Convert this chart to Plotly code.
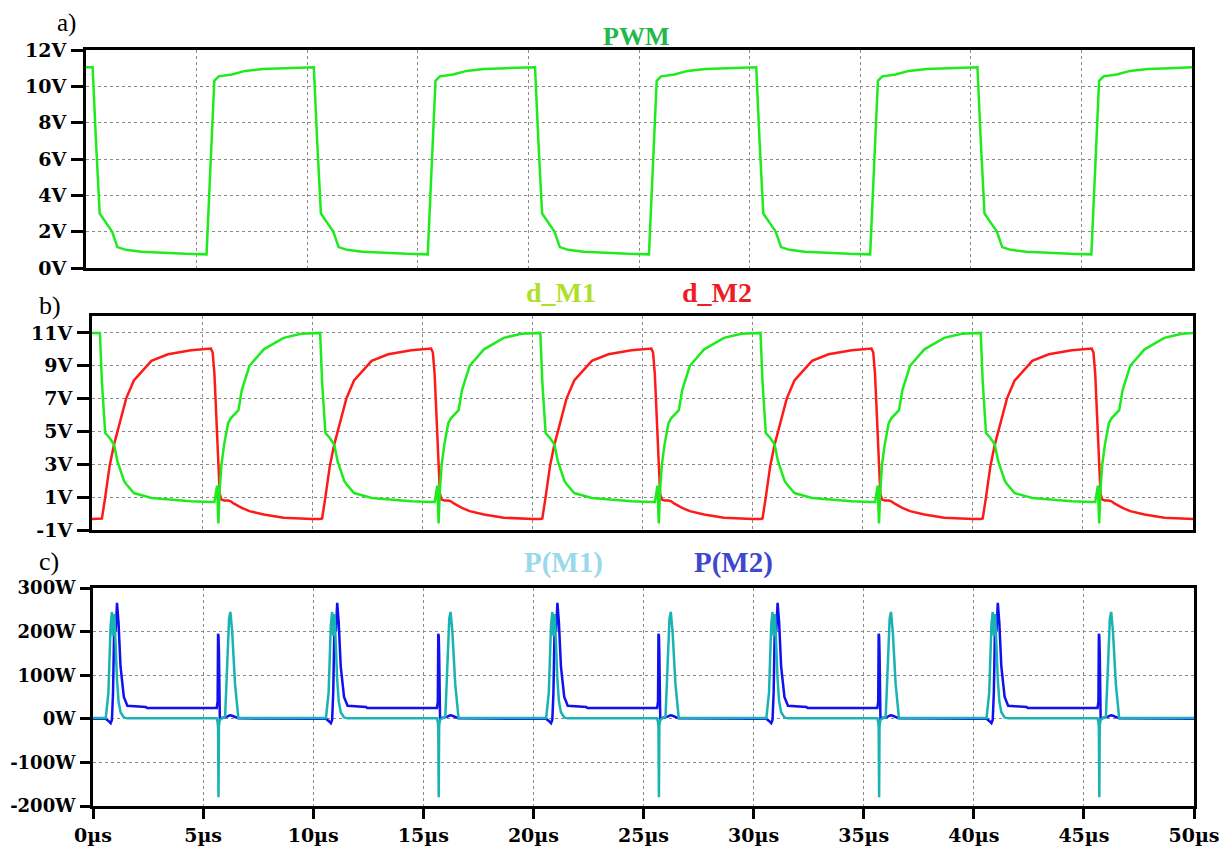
import plotly.graph_objects as go

# ---------------- data ----------------
# Panel a) PWM gate voltage, time in microseconds
t_pwm = [
    0.00,
    0.30, 0.45, 0.62, 0.90, 1.18, 1.42, 1.80, 2.50, 3.50, 4.50, 5.45, 5.62, 5.80, 6.00, 6.60, 7.20, 8.00, 9.00,
    10.30, 10.45, 10.62, 10.90, 11.18, 11.42, 11.80, 12.50, 13.50, 14.50, 15.45, 15.62, 15.80, 16.00, 16.60, 17.20, 18.00, 19.00,
    20.30, 20.45, 20.62, 20.90, 21.18, 21.42, 21.80, 22.50, 23.50, 24.50, 25.45, 25.62, 25.80, 26.00, 26.60, 27.20, 28.00, 29.00,
    30.30, 30.45, 30.62, 30.90, 31.18, 31.42, 31.80, 32.50, 33.50, 34.50, 35.45, 35.62, 35.80, 36.00, 36.60, 37.20, 38.00, 39.00,
    40.30, 40.45, 40.62, 40.90, 41.18, 41.42, 41.80, 42.50, 43.50, 44.50, 45.45, 45.62, 45.80, 46.00, 46.60, 47.20, 48.00, 49.00,
    50.00,
]
v_pwm = [
    11.05,
    11.05, 7.0, 3.0, 2.5, 2.0, 1.15, 1.0, 0.9, 0.82, 0.78, 0.75, 5.5, 10.3, 10.55, 10.65, 10.85, 10.95, 11.0,
    11.05, 7.0, 3.0, 2.5, 2.0, 1.15, 1.0, 0.9, 0.82, 0.78, 0.75, 5.5, 10.3, 10.55, 10.65, 10.85, 10.95, 11.0,
    11.05, 7.0, 3.0, 2.5, 2.0, 1.15, 1.0, 0.9, 0.82, 0.78, 0.75, 5.5, 10.3, 10.55, 10.65, 10.85, 10.95, 11.0,
    11.05, 7.0, 3.0, 2.5, 2.0, 1.15, 1.0, 0.9, 0.82, 0.78, 0.75, 5.5, 10.3, 10.55, 10.65, 10.85, 10.95, 11.0,
    11.05, 7.0, 3.0, 2.5, 2.0, 1.15, 1.0, 0.9, 0.82, 0.78, 0.75, 5.5, 10.3, 10.55, 10.65, 10.85, 10.95, 11.0,
    11.05,
]

# Panel b) drain voltages d_M1 / d_M2
t_drain = [
    0.00, 0.36, 0.45, 0.60, 0.80, 1.00, 1.15, 1.45, 1.55, 1.90, 2.70, 3.45, 4.50, 5.40, 5.48, 5.56, 5.68, 5.74, 5.80, 5.88, 6.00, 6.18, 6.30, 6.45, 6.65, 6.80, 7.15, 7.80, 8.70, 9.50,
    10.00, 10.36, 10.45, 10.60, 10.80, 11.00, 11.15, 11.45, 11.55, 11.90, 12.70, 13.45, 14.50, 15.40, 15.48, 15.56, 15.68, 15.74, 15.80, 15.88, 16.00, 16.18, 16.30, 16.45, 16.65, 16.80, 17.15, 17.80, 18.70, 19.50,
    20.00, 20.36, 20.45, 20.60, 20.80, 21.00, 21.15, 21.45, 21.55, 21.90, 22.70, 23.45, 24.50, 25.40, 25.48, 25.56, 25.68, 25.74, 25.80, 25.88, 26.00, 26.18, 26.30, 26.45, 26.65, 26.80, 27.15, 27.80, 28.70, 29.50,
    30.00, 30.36, 30.45, 30.60, 30.80, 31.00, 31.15, 31.45, 31.55, 31.90, 32.70, 33.45, 34.50, 35.40, 35.48, 35.56, 35.68, 35.74, 35.80, 35.88, 36.00, 36.18, 36.30, 36.45, 36.65, 36.80, 37.15, 37.80, 38.70, 39.50,
    40.00, 40.36, 40.45, 40.60, 40.80, 41.00, 41.15, 41.45, 41.55, 41.90, 42.70, 43.45, 44.50, 45.40, 45.48, 45.56, 45.68, 45.74, 45.80, 45.88, 46.00, 46.18, 46.30, 46.45, 46.65, 46.80, 47.15, 47.80, 48.70, 49.50,
    50.00,
]
v_dm1 = [
    11.0, 11.0, 8.0, 4.9, 4.6, 4.2, 3.2, 2.0, 1.8, 1.25, 0.95, 0.85, 0.75, 0.7, 0.7, 0.7, 1.7, -0.6, 1.5, 3.0, 4.2, 5.5, 5.8, 6.0, 6.3, 7.5, 9.0, 10.0, 10.7, 10.95,
    11.0, 11.0, 8.0, 4.9, 4.6, 4.2, 3.2, 2.0, 1.8, 1.25, 0.95, 0.85, 0.75, 0.7, 0.7, 0.7, 1.7, -0.6, 1.5, 3.0, 4.2, 5.5, 5.8, 6.0, 6.3, 7.5, 9.0, 10.0, 10.7, 10.95,
    11.0, 11.0, 8.0, 4.9, 4.6, 4.2, 3.2, 2.0, 1.8, 1.25, 0.95, 0.85, 0.75, 0.7, 0.7, 0.7, 1.7, -0.6, 1.5, 3.0, 4.2, 5.5, 5.8, 6.0, 6.3, 7.5, 9.0, 10.0, 10.7, 10.95,
    11.0, 11.0, 8.0, 4.9, 4.6, 4.2, 3.2, 2.0, 1.8, 1.25, 0.95, 0.85, 0.75, 0.7, 0.7, 0.7, 1.7, -0.6, 1.5, 3.0, 4.2, 5.5, 5.8, 6.0, 6.3, 7.5, 9.0, 10.0, 10.7, 10.95,
    11.0, 11.0, 8.0, 4.9, 4.6, 4.2, 3.2, 2.0, 1.8, 1.25, 0.95, 0.85, 0.75, 0.7, 0.7, 0.7, 1.7, -0.6, 1.5, 3.0, 4.2, 5.5, 5.8, 6.0, 6.3, 7.5, 9.0, 10.0, 10.7, 10.95,
    11.0,
]
v_dm2 = [
    -0.33, -0.33, -0.3, 1.0, 2.9, 4.2, 5.0, 6.5, 7.0, 8.1, 9.3, 9.7, 9.95, 10.05, 9.8, 8.5, 5.0, 3.0, 1.2, 0.85, 0.8, 0.8, 0.75, 0.6, 0.45, 0.35, 0.15, -0.05, -0.25, -0.32,
    -0.33, -0.33, -0.3, 1.0, 2.9, 4.2, 5.0, 6.5, 7.0, 8.1, 9.3, 9.7, 9.95, 10.05, 9.8, 8.5, 5.0, 3.0, 1.2, 0.85, 0.8, 0.8, 0.75, 0.6, 0.45, 0.35, 0.15, -0.05, -0.25, -0.32,
    -0.33, -0.33, -0.3, 1.0, 2.9, 4.2, 5.0, 6.5, 7.0, 8.1, 9.3, 9.7, 9.95, 10.05, 9.8, 8.5, 5.0, 3.0, 1.2, 0.85, 0.8, 0.8, 0.75, 0.6, 0.45, 0.35, 0.15, -0.05, -0.25, -0.32,
    -0.33, -0.33, -0.3, 1.0, 2.9, 4.2, 5.0, 6.5, 7.0, 8.1, 9.3, 9.7, 9.95, 10.05, 9.8, 8.5, 5.0, 3.0, 1.2, 0.85, 0.8, 0.8, 0.75, 0.6, 0.45, 0.35, 0.15, -0.05, -0.25, -0.32,
    -0.33, -0.33, -0.3, 1.0, 2.9, 4.2, 5.0, 6.5, 7.0, 8.1, 9.3, 9.7, 9.95, 10.05, 9.8, 8.5, 5.0, 3.0, 1.2, 0.85, 0.8, 0.8, 0.75, 0.6, 0.45, 0.35, 0.15, -0.05, -0.25, -0.32,
    -0.33,
]

# Panel c) dissipated power P(M1) / P(M2)
t_pow = [
    0.00, 0.58, 0.70, 0.80, 0.86, 0.91, 0.97, 1.03, 1.09, 1.16, 1.25, 1.40, 1.56, 2.40, 2.45, 5.62, 5.66, 5.68, 5.70, 5.72, 5.76, 5.85, 6.00, 6.10, 6.18, 6.24, 6.32, 6.45, 6.60, 9.90,
    10.00, 10.58, 10.70, 10.80, 10.86, 10.91, 10.97, 11.03, 11.09, 11.16, 11.25, 11.40, 11.56, 12.40, 12.45, 15.62, 15.66, 15.68, 15.70, 15.72, 15.76, 15.85, 16.00, 16.10, 16.18, 16.24, 16.32, 16.45, 16.60, 19.90,
    20.00, 20.58, 20.70, 20.80, 20.86, 20.91, 20.97, 21.03, 21.09, 21.16, 21.25, 21.40, 21.56, 22.40, 22.45, 25.62, 25.66, 25.68, 25.70, 25.72, 25.76, 25.85, 26.00, 26.10, 26.18, 26.24, 26.32, 26.45, 26.60, 29.90,
    30.00, 30.58, 30.70, 30.80, 30.86, 30.91, 30.97, 31.03, 31.09, 31.16, 31.25, 31.40, 31.56, 32.40, 32.45, 35.62, 35.66, 35.68, 35.70, 35.72, 35.76, 35.85, 36.00, 36.10, 36.18, 36.24, 36.32, 36.45, 36.60, 39.90,
    40.00, 40.58, 40.70, 40.80, 40.86, 40.91, 40.97, 41.03, 41.09, 41.16, 41.25, 41.40, 41.56, 42.40, 42.45, 45.62, 45.66, 45.68, 45.70, 45.72, 45.76, 45.85, 46.00, 46.10, 46.18, 46.24, 46.32, 46.45, 46.60, 49.90,
    50.00,
]
p_m1 = [
    2, 2, 60, 215, 245, 190, 240, 160, 90, 40, 15, 3, 1, 1, 1, 1, -8, -20, -180, -15, -3, 1, 5, 120, 230, 245, 200, 80, 2, 2,
    2, 2, 60, 215, 245, 190, 240, 160, 90, 40, 15, 3, 1, 1, 1, 1, -8, -20, -180, -15, -3, 1, 5, 120, 230, 245, 200, 80, 2, 2,
    2, 2, 60, 215, 245, 190, 240, 160, 90, 40, 15, 3, 1, 1, 1, 1, -8, -20, -180, -15, -3, 1, 5, 120, 230, 245, 200, 80, 2, 2,
    2, 2, 60, 215, 245, 190, 240, 160, 90, 40, 15, 3, 1, 1, 1, 1, -8, -20, -180, -15, -3, 1, 5, 120, 230, 245, 200, 80, 2, 2,
    2, 2, 60, 215, 245, 190, 240, 160, 90, 40, 15, 3, 1, 1, 1, 1, -8, -20, -180, -15, -3, 1, 5, 120, 230, 245, 200, 80, 2, 2,
    2,
]
p_m2 = [
    0, 0, -5, -10, -2, 60, 230, 200, 266, 220, 120, 50, 30, 27, 25, 25, 40, 195, 190, 150, 0, 2, 3, 5, 7, 8, 7, 4, 1, 0,
    0, 0, -5, -10, -2, 60, 230, 200, 266, 220, 120, 50, 30, 27, 25, 25, 40, 195, 190, 150, 0, 2, 3, 5, 7, 8, 7, 4, 1, 0,
    0, 0, -5, -10, -2, 60, 230, 200, 266, 220, 120, 50, 30, 27, 25, 25, 40, 195, 190, 150, 0, 2, 3, 5, 7, 8, 7, 4, 1, 0,
    0, 0, -5, -10, -2, 60, 230, 200, 266, 220, 120, 50, 30, 27, 25, 25, 40, 195, 190, 150, 0, 2, 3, 5, 7, 8, 7, 4, 1, 0,
    0, 0, -5, -10, -2, 60, 230, 200, 266, 220, 120, 50, 30, 27, 25, 25, 40, 195, 190, 150, 0, 2, 3, 5, 7, 8, 7, 4, 1, 0,
    0,
]

# Tick labels
x_tickvals = [0, 5, 10, 15, 20, 25, 30, 35, 40, 45, 50]
x_ticktext = ["0µs", "5µs", "10µs", "15µs", "20µs", "25µs", "30µs", "35µs", "40µs", "45µs", "50µs"]
ya_tickvals = [0, 2, 4, 6, 8, 10, 12]
ya_ticktext = ["0V", "2V", "4V", "6V", "8V", "10V", "12V"]
yb_tickvals = [-1, 1, 3, 5, 7, 9, 11]
yb_ticktext = ["-1V", "1V", "3V", "5V", "7V", "9V", "11V"]
yc_tickvals = [-200, -100, 0, 100, 200, 300]
yc_ticktext = ["-200W", "-100W", "0W", "100W", "200W", "300W"]

# ---------------- figure ----------------
# The page body has an 8 px margin, so the figure is 8 px smaller and
# all reference pixel positions are shifted by that offset.
OFF = 8
W, H = 1228 - OFF, 849 - OFF
def px(x):
    return (x - OFF) / W
def py(y):
    return 1 - (y - OFF) / H

fig = go.Figure()
fig.add_trace(go.Scatter(x=t_pwm, y=v_pwm, mode="lines", line=dict(color="#1eeb1e", width=2.5),
                         xaxis="x", yaxis="y", name="PWM"))
fig.add_trace(go.Scatter(x=t_drain, y=v_dm2, mode="lines", line=dict(color="#ff1a1a", width=2.5),
                         xaxis="x2", yaxis="y2", name="d_M2"))
fig.add_trace(go.Scatter(x=t_drain, y=v_dm1, mode="lines", line=dict(color="#1eeb1e", width=2.5),
                         xaxis="x2", yaxis="y2", name="d_M1"))
fig.add_trace(go.Scatter(x=t_pow, y=p_m2, mode="lines", line=dict(color="#1010f0", width=2.5),
                         xaxis="x3", yaxis="y3", name="P(M2)"))
fig.add_trace(go.Scatter(x=t_pow, y=p_m1, mode="lines", line=dict(color="#1ab3b3", width=2.5),
                         xaxis="x3", yaxis="y3", name="P(M1)"))

tick_font = dict(family="DejaVu Serif", size=19, color="black", weight="bold")
tick_font_c = dict(family="DejaVu Serif", size=18, color="black", weight="bold")
grid = dict(showgrid=True, gridcolor="#8a8a8a", gridwidth=1, griddash="dot", zeroline=False,
            showline=True, linecolor="black", linewidth=3, mirror=True, automargin=False)

def xax(domain, anchor, labels):
    d = dict(grid)
    d.update(domain=domain, anchor=anchor, range=[0, 50], tickvals=x_tickvals,
             ticktext=x_ticktext, showticklabels=labels, tickfont=tick_font)
    if labels:
        d.update(ticks="outside", ticklen=10, tickwidth=3, tickcolor="black")
    else:
        d.update(ticks="")
    return d

def yax(domain, anchor, rng, tv, tt, font, tlen=12):
    d = dict(grid)
    d.update(domain=domain, anchor=anchor, range=rng, tickvals=tv, ticktext=tt,
             ticks="outside", ticklen=tlen, tickwidth=3, tickcolor="black",
             tickfont=font, ticklabelstandoff=1)
    return d

fig.update_layout(
    width=W, height=H,
    margin=dict(l=0, r=0, t=0, b=0, autoexpand=False),
    paper_bgcolor="white", plot_bgcolor="white",
    showlegend=False,
    xaxis=xax([px(86), px(1192)], "y", False),
    yaxis=yax([py(268), py(50)], "x", [0, 12], ya_tickvals, ya_ticktext, tick_font),
    xaxis2=xax([px(92), px(1193)], "y2", False),
    yaxis2=yax([py(530), py(316)], "x2", [-1, 12.03], yb_tickvals, yb_ticktext, tick_font),
    xaxis3=xax([px(93), px(1194)], "y3", True),
    yaxis3=yax([py(806), py(588)], "x3", [-200, 300], yc_tickvals, yc_ticktext, tick_font_c, 10),
)

serif = "Liberation Serif"
annos = [
    dict(text="a)", x=px(66), y=py(23), font=dict(family=serif, size=25, color="black")),
    dict(text="b)", x=px(50), y=py(305), font=dict(family=serif, size=26, color="black")),
    dict(text="c)", x=px(49), y=py(561), font=dict(family=serif, size=26, color="black")),
    dict(text="PWM", x=px(636), y=py(36), font=dict(family=serif, size=26, color="#22b84a", weight="bold")),
    dict(text="d_M1", x=px(561), y=py(292), font=dict(family=serif, size=28, color="#aee02a", weight="bold")),
    dict(text="d_M2", x=px(717), y=py(292), font=dict(family=serif, size=28, color="#ee1c24", weight="bold")),
    dict(text="P(M1)", x=px(563), y=py(562), font=dict(family=serif, size=29, color="#99d9ea", weight="bold")),
    dict(text="P(M2)", x=px(733), y=py(562), font=dict(family=serif, size=29, color="#3f48cc", weight="bold")),
]
for a in annos:
    a.update(xref="paper", yref="paper", xanchor="center", yanchor="middle", showarrow=False)
fig.update_layout(annotations=annos)

fig.write_html("out.html")
